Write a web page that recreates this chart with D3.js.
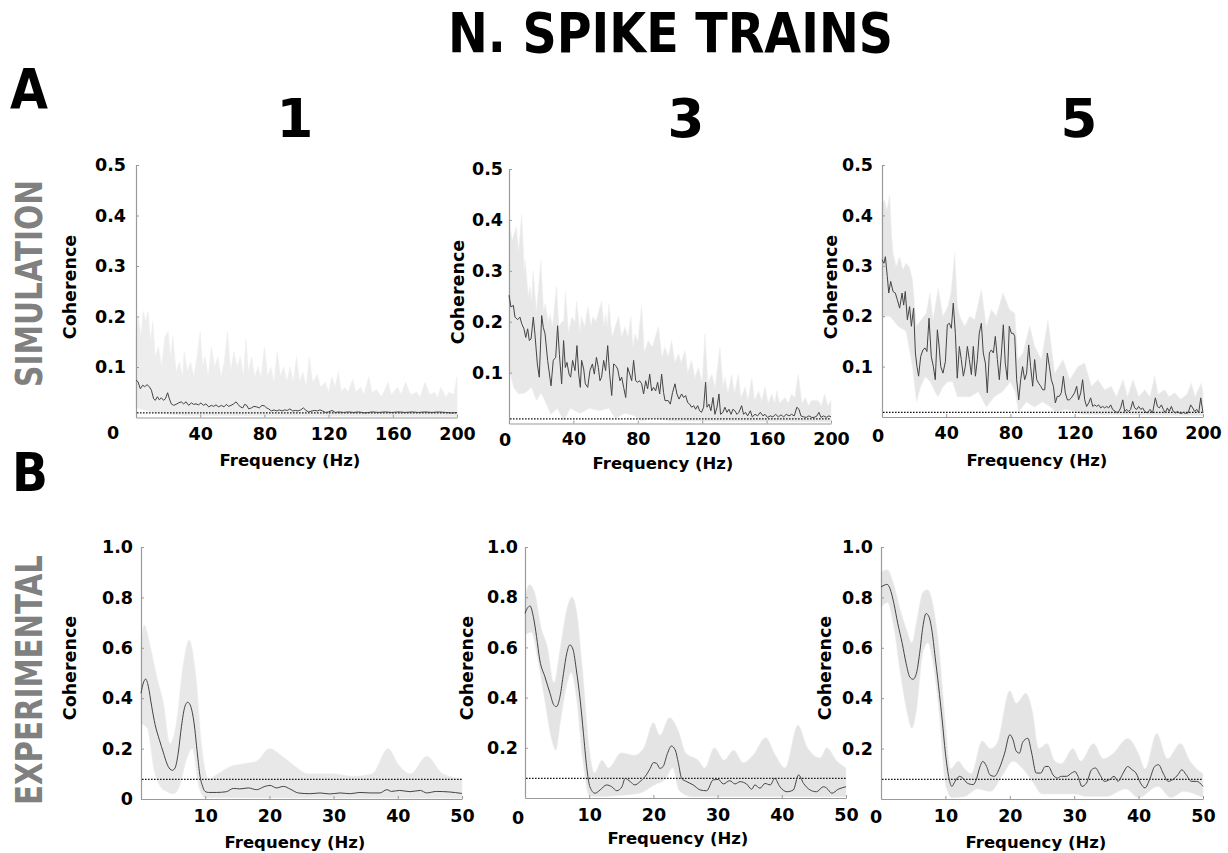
<!DOCTYPE html>
<html><head><meta charset="utf-8">
<script src="https://cdn.jsdelivr.net/npm/d3@7"></script>
<style>
body{margin:0;background:#fff}
svg{display:block}
text{font-family:"DejaVu Sans",Verdana,sans-serif;font-weight:bold}
</style>
</head><body>
<svg id="chart" width="1228" height="853"></svg>
<script>
// ---------------- DATA ----------------
const columnLabels = ["1", "3", "5"];
const rowLabels = ["SIMULATION", "EXPERIMENTAL"];
const simXTicks = [40, 80, 120, 160, 200];
const simYTicks = [0.1, 0.2, 0.3, 0.4, 0.5];
const expXTicks = [10, 20, 30, 40, 50];
const expYTicks = [0.2, 0.4, 0.6, 0.8, 1.0];
const simThreshold = 0.009;
const expThreshold = 0.078;

// Simulation, 1 spike train: mean coherence, envelope of individual traces
const sim1Mean = [[0,.074],[1.2,.071],[2.7,.057],[4.2,.064],[5.4,.061],[6.9,.065],[8.3,.061],[9.6,.054],[11,.037],[12,.034],[13.3,.041],[14.5,.035],[15.8,.039],[17.2,.034],[18.3,.037],[19.7,.049],[20.8,.037],[22,.027],[23.5,.024],[24.9,.026],[26.6,.029],[28.2,.031],[29.7,.027],[31.2,.031],[32.8,.024],[34.5,.029],[35.9,.026],[37.4,.027],[39,.025],[40.5,.029],[42,.024],[43.6,.027],[45.3,.021],[46.9,.024],[48.4,.022],[49.8,.025],[51.5,.021],[53.2,.024],[54.8,.021],[56.3,.026],[57.7,.022],[59.2,.024],[60.9,.027],[62.3,.031],[63.6,.026],[65,.021],[66.5,.019],[67.7,.026],[69,.024],[70.2,.017],[71.9,.019],[73.5,.022],[75.2,.021],[76.8,.019],[78.5,.024],[80,.023],[81.4,.019],[82.7,.017],[84.3,.013],[86,.015],[87.7,.013],[89.3,.015],[91,.013],[92.6,.015],[94.3,.014],[95.9,.017],[97.6,.013],[99.3,.014],[100.9,.013],[102.6,.015],[104.3,.019],[105.9,.014],[107.6,.011],[109.7,.013],[111.3,.014],[113,.013],[114.6,.015],[116.3,.013],[118,.010],[120,.011],[122.1,.014],[124.2,.010],[126.3,.011],[129.4,.010],[132.5,.011],[135.6,.010],[138.7,.011],[142.9,.009],[147,.011],[151.2,.010],[155.3,.011],[159.5,.010],[163.6,.011],[167.8,.010],[171.9,.011],[176,.010],[180.2,.011],[184.4,.010],[188.5,.011],[192.7,.010],[196.9,.009],[200,.010]];
const sim1Up = [[0,.17],[1.5,.2],[3,.16],[4.5,.21],[6,.19],[7.5,.21],[9,.15],[10.5,.19],[12,.12],[14,.14],[16,.1],[18,.16],[20,.17],[21.5,.12],[23,.16],[25,.09],[27,.11],[29,.08],[30,.13],[32,.09],[34,.11],[36,.08],[38,.12],[40,.17],[41.5,.1],[43,.12],[45,.08],[47,.14],[49,.1],[51,.12],[53,.08],[55,.11],[57,.17],[59,.09],[61,.13],[63,.1],[65,.12],[67,.08],[68.5,.155],[70,.09],[72,.12],[74,.08],[76,.1],[78,.08],[80,.14],[82,.08],[84,.1],[86,.07],[88,.13],[90,.08],[92,.1],[94,.07],[96,.1],[98,.07],[100,.12],[102,.07],[104,.09],[106,.06],[108,.12],[110,.07],[113,.085],[115,.06],[118,.07],[120,.05],[122,.08],[124,.06],[126,.09],[128,.05],[130,.06],[132,.05],[135,.075],[137,.05],[140,.06],[142,.045],[145,.08],[147,.05],[150,.055],[153,.04],[157,.07],[159,.045],[163,.06],[165,.045],[168,.07],[171,.045],[175,.05],[177,.04],[180,.07],[183,.045],[186,.05],[188,.04],[190,.06],[193,.04],[195,.05],[198,.045],[200,.08]];
const sim1Lo = [[0,.02],[10,.01],[30,.004],[200,.002]];

// Simulation, 3 spike trains
const sim3Mean = [[0,.252],[1.2,.229],[2.7,.232],[3.7,.209],[5.4,.204],[6.8,.209],[7.9,.196],[9.3,.186],[10.4,.169],[11.6,.186],[12.6,.163],[13.7,.166],[15.1,.209],[16.1,.176],[17.6,.117],[18.8,.091],[20.3,.212],[21.3,.189],[22.4,.176],[24,.124],[26.1,.074],[27.5,.124],[29,.130],[30.2,.192],[31.3,.136],[32.7,.078],[33.9,.163],[35,.110],[36,.120],[37.3,.097],[38.3,.091],[39.5,.124],[41,.104],[42.2,.153],[43.3,.097],[44.3,.071],[45.1,.124],[46.4,.107],[47.4,.078],[48.9,.071],[50.3,.104],[51.8,.117],[53,.097],[54.3,.130],[55.5,.110],[56.5,.084],[57.5,.091],[58.8,.124],[60,.104],[61.3,.153],[62.5,.097],[63.8,.055],[65,.117],[66.2,.114],[67.5,.107],[68.9,.084],[70,.091],[71.2,.071],[72.5,.051],[73.7,.110],[75,.097],[76.2,.084],[77.4,.124],[78.7,.084],[79.9,.081],[81.1,.084],[82.4,.078],[83.6,.058],[84.9,.084],[86.1,.068],[87.4,.097],[88.6,.064],[89.8,.071],[91.1,.064],[92.3,.081],[93.6,.058],[94.8,.097],[96,.061],[96.9,.045],[98.9,.045],[100.2,.038],[101.6,.061],[103.1,.078],[104.3,.058],[105.6,.048],[107.2,.058],[108.5,.051],[109.7,.055],[111,.041],[112.2,.038],[113.4,.032],[114.7,.035],[115.9,.028],[117.2,.035],[118.4,.025],[119.6,.022],[120.9,.032],[122.1,.081],[123,.032],[124.2,.038],[125.4,.025],[126.7,.051],[127.9,.018],[129.2,.032],[130.4,.058],[131.4,.018],[132.9,.022],[134.1,.032],[135.4,.022],[136.6,.028],[137.9,.018],[139.1,.028],[140.3,.025],[141.6,.018],[142.8,.022],[144.5,.035],[145.7,.018],[146.9,.022],[148.2,.015],[149.9,.025],[151.1,.013],[152.8,.018],[154.4,.015],[156.1,.022],[157.7,.015],[159,.018],[160.6,.012],[162.3,.015],[163.9,.013],[165.6,.018],[167.3,.013],[168.9,.017],[170.6,.013],[172.2,.018],[173.9,.015],[175.5,.018],[177.2,.015],[178.8,.032],[180.1,.028],[181.3,.015],[183,.013],[184.7,.012],[186.3,.015],[188,.012],[189.6,.012],[191.3,.015],[192.5,.022],[193.8,.012],[195.4,.015],[197.1,.012],[198.7,.015],[200,.013]];
const sim3Up = [[0,.40],[2,.36],[4.5,.386],[6,.34],[7.9,.41],[9.5,.3],[10,.32],[12,.25],[13,.268],[14,.24],[15,.30],[17,.22],[19.8,.32],[21.5,.22],[22.4,.235],[24.5,.2],[25.5,.215],[27,.19],[29.5,.27],[31,.19],[32.7,.2],[34,.2],[35,.258],[37,.18],[39,.209],[41,.2],[42,.24],[44,.18],[45,.21],[47,.19],[49,.23],[51,.19],[52,.21],[54,.2],[57.5,.24],[59,.19],[60,.215],[61,.19],[62,.235],[64,.17],[68,.21],[70,.17],[72,.19],[74,.17],[75.7,.21],[77,.15],[78.3,.176],[80,.16],[82.4,.232],[84,.14],[86.5,.163],[89,.15],[92.8,.19],[95,.13],[96.9,.15],[99,.13],[101,.163],[103,.12],[105.2,.137],[107,.12],[109.3,.143],[111,.1],[113.4,.124],[115.5,.09],[117.6,.11],[120,.08],[121.7,.176],[123.5,.08],[126,.097],[128,.07],[131,.15],[133,.07],[134.1,.09],[136,.06],[138.3,.097],[140,.06],[142.5,.097],[144,.05],[146.6,.071],[148.5,.045],[150.8,.09],[152.5,.045],[155,.064],[157,.045],[159,.071],[161,.04],[163.2,.058],[165,.04],[166.3,.064],[168,.04],[171.4,.051],[173.5,.04],[175.5,.058],[177.5,.05],[179.6,.097],[182,.04],[184,.051],[186,.035],[188,.045],[192,.045],[194,.035],[196,.058],[198,.035],[200,.045]];
const sim3Lo = [[0,.11],[3,.07],[6,.058],[10,.06],[14,.071],[17,.045],[20,.06],[23,.04],[26,.018],[30,.03],[34,.005],[38,.03],[44,.02],[50,.03],[56,.025],[62,.03],[66,.01],[72,.02],[78,.015],[82,.005],[90,.01],[100,.005],[200,.003]];

// Simulation, 5 spike trains
const sim5Mean = [[0,.312],[1.2,.305],[2.1,.318],[3.3,.279],[4.2,.246],[5.4,.269],[6.9,.249],[8.3,.246],[9.6,.232],[11,.216],[12.5,.246],[13.5,.222],[14.5,.249],[15.8,.193],[17.2,.219],[18.3,.180],[19.7,.216],[20.8,.127],[21.8,.100],[22.8,.081],[24.1,.120],[25.5,.133],[26.8,.137],[28,.130],[29.3,.196],[30.7,.120],[32,.100],[33.2,.074],[34.5,.173],[35.5,.143],[36.6,.100],[38,.087],[39.5,.110],[40.7,.183],[42,.186],[43.2,.176],[44.4,.226],[45.7,.166],[46.9,.077],[48.2,.140],[49.4,.114],[50.7,.081],[51.9,.100],[53.2,.140],[54.4,.114],[55.7,.084],[56.9,.140],[58.2,.081],[59.4,.114],[60.6,.166],[61.9,.186],[63.1,.127],[64.4,.107],[65.6,.048],[66.9,.127],[68.1,.133],[69.4,.127],[70.6,.160],[71.9,.114],[73.1,.074],[74.4,.127],[75.6,.183],[76.8,.107],[78.1,.074],[79.3,.180],[80.6,.166],[81.8,.166],[82.7,.160],[83.9,.074],[85.2,.034],[86.4,.074],[87.6,.100],[88.9,.074],[90.1,.087],[91.4,.143],[92.6,.100],[93.9,.061],[95.1,.114],[96.4,.074],[97.6,.067],[98.9,.061],[100.1,.054],[101.4,.054],[103,.127],[104.3,.100],[105.5,.074],[106.8,.061],[108,.028],[109.2,.041],[110.5,.041],[111.7,.048],[113,.081],[114.2,.048],[115.5,.034],[116.7,.034],[118,.038],[120,.048],[121.3,.061],[122.5,.034],[123.8,.048],[125,.074],[126.3,.034],[127.5,.021],[128.8,.028],[130,.038],[131.3,.021],[132.5,.024],[133.8,.021],[135,.024],[136.3,.018],[137.5,.021],[138.7,.018],[140,.021],[141.2,.018],[142.5,.024],[143.7,.015],[145.4,.011],[147,.008],[148.7,.018],[150,.034],[151.2,.011],[152.5,.015],[153.7,.011],[154.9,.015],[156.2,.031],[157.4,.018],[158.7,.015],[159.9,.021],[161.2,.015],[162.4,.018],[163.7,.011],[165.3,.008],[167,.015],[168.6,.008],[170.3,.038],[171.6,.021],[172.8,.018],[174.1,.024],[175.3,.015],[176.5,.008],[177.8,.018],[179,.011],[180.3,.021],[181.5,.011],[182.8,.008],[184,.011],[185.3,.008],[186.5,.007],[187.8,.009],[189,.007],[190.7,.008],[192.3,.024],[193.6,.018],[194.8,.011],[196.1,.015],[197.3,.008],[198.6,.038],[200,.008]];
const sim5Up = [[0,.424],[1.5,.43],[3,.41],[4.8,.44],[6,.36],[6.9,.325],[8.8,.298],[11,.318],[13,.292],[15,.305],[17,.298],[19,.272],[21.4,.18],[24.5,.193],[27.6,.206],[29.8,.246],[31.8,.193],[35,.255],[38,.2],[41,.219],[43,.246],[45.3,.325],[47,.22],[48.4,.2],[51.5,.18],[54.6,.2],[57.7,.193],[61.9,.252],[65,.18],[68.1,.213],[71.2,.2],[75.4,.246],[79.5,.213],[82.7,.206],[84.7,.114],[87.8,.127],[92,.18],[95.1,.14],[99.3,.114],[103.4,.193],[107.6,.087],[112.8,.114],[117,.074],[122.1,.1],[126.3,.107],[130.4,.061],[134.6,.074],[138.7,.054],[142.9,.061],[146,.04],[150.2,.074],[153,.04],[156.4,.074],[160,.04],[163.7,.054],[167,.04],[169.9,.081],[172,.045],[176.1,.054],[179,.04],[182.3,.048],[186,.035],[190,.045],[192.7,.067],[195,.04],[198.9,.067],[200,.048]];
const sim5Lo = [[0,.2],[5,.2],[10,.18],[15,.17],[19,.1],[21.5,.03],[24,.06],[27,.08],[30,.07],[33,.05],[35,.04],[38,.06],[41,.07],[44,.07],[47,.04],[50,.04],[55,.04],[60,.05],[65,.02],[70,.04],[75,.05],[80,.07],[83,.05],[85,.01],[90,.03],[95,.02],[100,.03],[105,.02],[108,.01],[115,.015],[120,.01],[125,.005],[200,.003]];

// Experimental, 1 spike train
const exp1Mean = [[0,.42],[.36,.46],[.73,.476],[1.14,.447],[1.66,.368],[2.2,.295],[2.86,.235],[3.5,.183],[4,.143],[4.5,.119],[4.9,.114],[5.3,.123],[5.8,.183],[6.3,.288],[6.85,.368],[7.27,.384],[7.74,.368],[8.26,.302],[8.77,.183],[9.2,.09],[9.6,.05],[9.97,.03],[10.5,.026],[11.8,.026],[13.3,.029],[14.4,.042],[15.4,.04],[16.7,.044],[18,.037],[19.3,.05],[20.1,.054],[21.1,.044],[22.2,.05],[23.2,.04],[24.5,.024],[26.3,.021],[27.9,.024],[29.4,.02],[31,.024],[32.6,.021],[34.1,.026],[35.7,.024],[37.2,.024],[38.3,.037],[39,.03],[40.3,.034],[41.9,.029],[43.5,.034],[44.5,.024],[46,.03],[48,.028],[50,.022]];
const exp1Up = [[0,.6],[.5,.69],[1.5,.6],[2.5,.48],[3.5,.38],[4.5,.22],[5.5,.3],[6.5,.52],[7.5,.63],[8.5,.5],[9.5,.2],[10.5,.08],[12,.1],[14,.13],[16,.14],[18,.15],[20,.2],[22,.17],[24,.13],[26,.1],[28,.1],[30,.1],[33,.09],[36,.1],[38.5,.2],[40,.14],[42,.1],[44.5,.17],[47,.1],[50,.08]];
const exp1Lo = [[0,.3],[1,.28],[2,.12],[3,.05],[4,.03],[5,.02],[6,.05],[7,.15],[8,.2],[9,.05],[10,.005],[50,.003]];

// Experimental, 3 spike trains
const exp3Mean = [[0,.736],[.36,.756],[.78,.765],[1.3,.722],[1.8,.643],[2.3,.55],[3.1,.483],[3.9,.417],[4.5,.37],[4.9,.364],[5.45,.404],[6,.497],[6.5,.576],[7,.61],[7.5,.59],[8,.51],[8.6,.39],[9.1,.258],[9.6,.125],[10.1,.045],[10.9,.019],[11.7,.032],[12.7,.052],[13.5,.045],[14.3,.029],[15.1,.045],[15.6,.078],[16.4,.065],[17.1,.052],[17.9,.065],[18.7,.085],[19.5,.118],[20,.141],[20.5,.138],[21,.118],[21.5,.125],[22.2,.178],[22.8,.207],[23.4,.191],[23.9,.138],[24.4,.078],[25.2,.065],[26.2,.052],[27.3,.032],[28.3,.029],[29.3,.072],[30.1,.074],[30.9,.056],[31.9,.069],[32.7,.056],[33.5,.065],[34.5,.056],[35.3,.035],[35.8,.052],[36.6,.039],[37.4,.058],[38.2,.052],[38.9,.078],[39.7,.045],[40.8,.025],[41.8,.032],[42.6,.092],[43.4,.058],[44.4,.032],[45.4,.025],[46.5,.045],[47,.039],[47.8,.019],[48.8,.035],[50,.045]];
const exp3Up = [[0,.8],[.7,.85],[1.5,.82],[2.5,.68],[3.5,.6],[4.5,.46],[5.5,.6],[6.5,.75],[7.3,.8],[8,.75],[9,.5],[10,.2],[10.8,.1],[12,.15],[13,.12],[15,.18],[17,.17],[18.5,.2],[20,.3],[21,.25],[22.5,.32],[24,.26],[25,.18],[27,.15],[28,.12],[29.5,.2],[31,.15],[32.5,.19],[34,.14],[35.5,.17],[37.5,.24],[39,.17],[40.5,.12],[42.5,.29],[44,.2],[46,.16],[47,.2],[48.5,.15],[50,.12]];
const exp3Lo = [[0,.65],[1,.66],[2,.55],[3,.4],[4,.25],[4.8,.19],[5.5,.3],[6.5,.45],[7.2,.5],[8,.4],[9,.15],[10,.01],[11,.005],[15,.01],[18,.02],[20,.05],[22,.08],[23,.12],[24,.03],[26,.005],[50,.005]];

// Experimental, 5 spike trains
const exp5Mean = [[0,.842],[.47,.848],[.93,.852],[1.4,.835],[2,.776],[2.6,.697],[3.3,.617],[3.9,.538],[4.45,.485],[4.97,.475],[5.5,.499],[6,.578],[6.5,.683],[7,.736],[7.45,.723],[7.9,.67],[8.4,.565],[8.95,.446],[9.5,.314],[10,.182],[10.5,.09],[11,.05],[11.5,.07],[12.2,.09],[12.7,.083],[13.4,.063],[14.3,.057],[14.8,.077],[15.3,.123],[15.8,.149],[16.4,.129],[16.9,.096],[17.6,.09],[18.4,.123],[19.2,.182],[20,.255],[20.5,.235],[21,.19],[21.5,.182],[22,.225],[22.8,.241],[23.4,.182],[24.1,.103],[24.8,.103],[25.5,.129],[26,.129],[26.7,.096],[27.4,.083],[28,.09],[28.8,.09],[29.6,.103],[30.1,.109],[30.6,.09],[31.2,.05],[31.9,.063],[32.7,.116],[33.3,.123],[34,.096],[34.7,.07],[35.5,.077],[36.2,.09],[36.8,.07],[37.6,.103],[38.3,.129],[39,.116],[39.6,.103],[40.3,.063],[41,.044],[41.7,.077],[42.5,.129],[43.1,.136],[43.8,.103],[44.6,.07],[45.3,.077],[46.1,.096],[46.7,.116],[47.4,.096],[48.2,.07],[49,.07],[50,.05]];
const exp5Up = [[0,.9],[1,.91],[2,.85],[3,.75],[4,.67],[4.8,.62],[5.5,.7],[6.5,.82],[7.2,.83],[8,.78],[9,.6],[10,.3],[10.8,.12],[12,.15],[13,.12],[14,.1],[15.7,.23],[17,.2],[18,.22],[20,.43],[21,.38],[22.5,.42],[23.5,.35],[24.5,.2],[25.8,.22],[27,.15],[28,.14],[29.8,.2],[31,.15],[33,.22],[34.5,.16],[36,.18],[38.3,.24],[40,.18],[41,.12],[42.8,.26],[44.5,.16],[46.5,.22],[48,.15],[50,.1]];
const exp5Lo = [[0,.76],[1,.78],[2,.68],[3,.5],[4,.35],[4.8,.28],[5.5,.35],[6.5,.58],[7.3,.62],[8,.55],[9,.35],[10,.06],[11,.005],[13,.01],[15,.04],[17,.03],[19,.1],[20.5,.15],[22,.12],[23.5,.07],[25,.02],[28,.02],[30,.02],[32,.01],[35,.01],[38,.04],[40,.005],[43,.05],[45,.005],[47,.03],[50,.005]];

// ---------------- LAYOUT ----------------
const panels = [
  {mean:sim1Mean, up:sim1Up, lo:sim1Lo, sim:true, px:[136,457], py:[417.5,165], xpad:10, ypad:10, zero:[113,433], coh:[70,287], freq:[290,460], fill:"#ededed"},
  {mean:sim3Mean, up:sim3Up, lo:sim3Lo, sim:true, px:[509,831], py:[423.5,169], xpad:9, ypad:6, zero:[505,440], coh:[458,292], freq:[663,463], fill:"#e8e8e8"},
  {mean:sim5Mean, up:sim5Up, lo:sim5Lo, sim:true, px:[882,1203], py:[417,165], xpad:10, ypad:9, zero:[878,436], coh:[831,287], freq:[1037,460], fill:"#e6e6e6"},
  {mean:exp1Mean, up:exp1Up, lo:exp1Lo, sim:false, px:[141,462], py:[799,547], xpad:11, ypad:8, zero:null, coh:[70,668], freq:[295,842], fill:"#e8e8e8"},
  {mean:exp3Mean, up:exp3Up, lo:exp3Lo, sim:false, px:[525,846], py:[798,547], xpad:11, ypad:7, zero:[518,818], coh:[467,668], freq:[678,838], fill:"#e4e4e4"},
  {mean:exp5Mean, up:exp5Up, lo:exp5Lo, sim:false, px:[881,1203], py:[799,547], xpad:11, ypad:8, zero:[876,817], coh:[825,668], freq:[1036,842], fill:"#e4e4e4"}
];

const svg = d3.select("#chart");
const AXIS = "#9a9a9a";

panels.forEach((p, i) => {
  const x = d3.scaleLinear().domain(p.sim ? [0,200] : [0,50]).range(p.px);
  const y = d3.scaleLinear().domain(p.sim ? [0,0.5] : [0,1]).range(p.py);
  const curve = p.sim ? d3.curveLinear : d3.curveMonotoneX;
  const g = svg.append("g");

  // envelope of individual traces
  const lineU = d3.line().x(d => x(d[0])).y(d => y(d[1])).curve(curve);
  const upPath = lineU(p.up);
  const loPath = lineU(p.lo.slice().reverse()).replace(/^M/, "L");
  g.append("path").attr("d", upPath + loPath + "Z")
    .attr("fill", p.fill).attr("stroke", "#efefef").attr("stroke-width", 0.6);

  // axes
  const xAxis = d3.axisBottom(x).tickValues(p.sim ? simXTicks : expXTicks)
    .tickSizeInner(-3).tickSizeOuter(0).tickPadding(p.xpad).tickFormat(d3.format("d"));
  const yTicks = (!p.sim && i === 3) ? [0].concat(expYTicks) : (p.sim ? simYTicks : expYTicks);
  const yAxis = d3.axisLeft(y).tickValues(yTicks)
    .tickSizeInner(-3).tickSizeOuter(0).tickPadding(p.ypad)
    .tickFormat(d => d === 0 ? "0" : d3.format(".1f")(d));

  const gx = g.append("g").attr("transform", `translate(0,${p.py[0]})`).call(xAxis);
  const gy = g.append("g").attr("transform", `translate(${p.px[0]},0)`).call(yAxis);
  [gx, gy].forEach(a => {
    a.select(".domain").attr("stroke", AXIS).attr("stroke-width", 1.2);
    a.selectAll(".tick line").attr("stroke", AXIS);
    a.selectAll(".tick text").attr("fill", "#000")
      .style("font-family", '"DejaVu Sans",Verdana,sans-serif')
      .style("font-weight", "bold").style("font-size", "17.5px");
  });

  // significance threshold
  const thr = p.sim ? simThreshold : expThreshold;
  g.append("line").attr("x1", x.range()[0] + 1).attr("x2", x.range()[1])
    .attr("y1", y(thr)).attr("y2", y(thr))
    .attr("stroke", "#1a1a1a").attr("stroke-width", 1.3).attr("stroke-dasharray", "1.6,1.4");

  // mean coherence
  g.append("path").attr("d", d3.line().x(d => x(d[0])).y(d => y(d[1])).curve(curve)(p.mean))
    .attr("fill", "none").attr("stroke", "#444").attr("stroke-width", 1);

  // origin "0"
  if (p.zero) {
    g.append("text").attr("x", p.zero[0]).attr("y", p.zero[1]).attr("text-anchor", "middle")
      .attr("dominant-baseline", "central").style("font-size", "17.5px").text("0");
  }
  // axis titles
  g.append("text").attr("transform", `translate(${p.coh[0]},${p.coh[1]}) rotate(-90)`)
    .attr("text-anchor", "middle").attr("dominant-baseline", "central")
    .style("font-size", "17.5px").text("Coherence");
  g.append("text").attr("x", p.freq[0]).attr("y", p.freq[1]).attr("text-anchor", "middle")
    .attr("dominant-baseline", "central").style("font-size", "16.5px").text("Frequency (Hz)");
});

// titles and labels
svg.append("text").attr("x", 448).attr("y", 52).style("font-size", "55px")
  .attr("textLength", 445).attr("lengthAdjust", "spacingAndGlyphs").text("N. SPIKE TRAINS");
svg.append("text").attr("x", 10).attr("y", 108).style("font-size", "55px")
  .attr("textLength", 38).attr("lengthAdjust", "spacingAndGlyphs").text("A");
svg.append("text").attr("x", 12).attr("y", 491).style("font-size", "53px")
  .attr("textLength", 36).attr("lengthAdjust", "spacingAndGlyphs").text("B");
const colX = [295, 686, 1079];
columnLabels.forEach((c, i) => {
  svg.append("text").attr("x", colX[i]).attr("y", 137).attr("text-anchor", "middle")
    .style("font-size", "53px").text(c);
});
const rowPos = [[42, 283.5, 207], [42, 680, 250]];
rowLabels.forEach((r, i) => {
  svg.append("text").attr("transform", `translate(${rowPos[i][0]},${rowPos[i][1]}) rotate(-90)`)
    .attr("text-anchor", "middle").attr("fill", "#808080").style("font-size", "37px")
    .attr("textLength", rowPos[i][2]).attr("lengthAdjust", "spacingAndGlyphs").text(r);
});
</script>
</body></html>
